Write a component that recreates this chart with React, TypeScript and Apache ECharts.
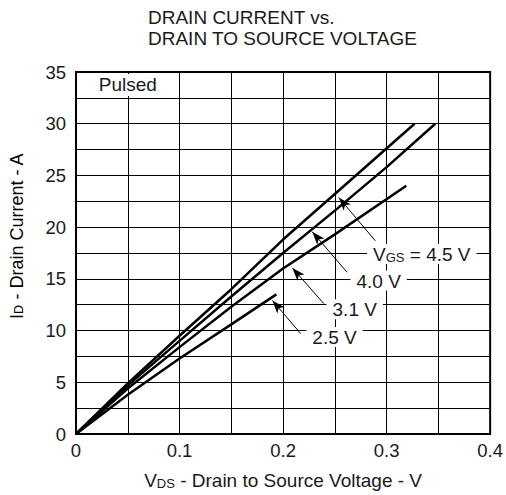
import { useEffect, useRef } from "react";
import * as echarts from "echarts";

// Curve data (VDS in V, ID in A)
const vds45 = [0, 0.05, 0.1, 0.15, 0.2, 0.25, 0.327];
const id45 = [0, 4.9, 9.5, 14.0, 18.8, 23.2, 30];
const vds40 = [0, 0.05, 0.1, 0.15, 0.2, 0.25, 0.3, 0.347];
const id40 = [0, 4.7, 9.0, 13.3, 17.5, 21.6, 25.8, 30];
const vds31 = [0, 0.05, 0.1, 0.15, 0.2, 0.25, 0.319];
const id31 = [0, 4.4, 8.4, 12.3, 16.0, 19.3, 24];
const vds25 = [0, 0.05, 0.1, 0.15, 0.1935];
const id25 = [0, 3.8, 7.3, 10.6, 13.5];

const xTickLabels = ["0", "0.1", "0.2", "0.3", "0.4"];
const yTickLabels = ["0", "5", "10", "15", "20", "25", "30", "35"];

// Annotations (data coordinates)
const curveLabels = ["{v|V}{s|GS}{v| = 4.5 V}", "{v|4.0 V}", "{v|3.1 V}", "{v|2.5 V}"];
const labelAt = [
  [0.334, 17.4],
  [0.2923, 14.84],
  [0.2692, 12.05],
  [0.2497, 9.39],
];
const arrowFrom = [
  [0.2891, 18.68],
  [0.2618, 15.64],
  [0.2394, 12.6],
  [0.217, 9.71],
];
const arrowTo = [
  [0.2538, 22.86],
  [0.2282, 19.55],
  [0.209, 16.06],
  [0.1897, 12.91],
];
const pulsedText = "Pulsed";
const pulsedAt = [0.05, 33.75];
const titleText = "DRAIN CURRENT vs.\nDRAIN TO SOURCE VOLTAGE";
const xNameText = "{v|V}{s|DS}{v| - Drain to Source Voltage - V}";
const yNameText = "{v|I}{s|D}{v| - Drain Current - A}";

const FONT = "'Liberation Sans', Arial, Helvetica, sans-serif";
const INK = "#1a1a1a";

function pairs(xs: number[], ys: number[]) {
  return xs.map((x, i) => [x, ys[i]]);
}

export default function App() {
  const ref = useRef<HTMLDivElement>(null);
  useEffect(() => {
    if (!ref.current) return;
    const chart = echarts.init(ref.current, undefined, { renderer: "svg" });
    const lineBase = {
      type: "line",
      showSymbol: false,
      symbol: "none",
      smooth: false,
      lineStyle: { color: "#000", width: 2.5 },
      silent: true,
      z: 3,
    };
    const rich = {
      v: { fontSize: 19, fontFamily: FONT, color: INK, verticalAlign: "bottom", lineHeight: 20 },
      s: { fontSize: 13, fontFamily: FONT, color: INK, verticalAlign: "bottom", lineHeight: 17 },
    };
    const richY = {
      v: { fontSize: 18, fontFamily: FONT, color: INK, verticalAlign: "bottom", lineHeight: 19 },
      s: { fontSize: 12.5, fontFamily: FONT, color: INK, verticalAlign: "bottom", lineHeight: 16 },
    };
    chart.setOption({
      animation: false,
      backgroundColor: "#fff",
      textStyle: { fontFamily: FONT },
      grid: { left: 76, right: 15, top: 72, bottom: 59, show: true, borderColor: "#000", borderWidth: 2, z: 10 },
      graphic: [
        {
          type: "text",
          left: 148,
          top: 7,
          z: 100,
          style: {
            text: titleText,
            font: `19px ${FONT}`,
            fill: INK,
            lineHeight: 21,
          },
        },
        {
          type: "text",
          x: 16,
          y: 236,
          rotation: Math.PI / 2,
          z: 100,
          style: {
            text: yNameText,
            rich: richY,
            align: "center",
            verticalAlign: "middle",
          },
        },
      ],
      xAxis: {
        type: "value",
        min: 0,
        max: 0.4,
        interval: 0.05,
        axisLine: { show: true, lineStyle: { color: "#000", width: 2 } },
        axisTick: { show: false },
        splitLine: { show: true, lineStyle: { color: "#000", width: 1 } },
        axisLabel: {
          color: INK,
          fontSize: 18.5,
          fontFamily: FONT,
          margin: 7,
          formatter: (v: number) => {
            const t = xTickLabels.find((s) => Math.abs(Number(s) - v) < 1e-6);
            return t ?? "";
          },
        },
        name: xNameText,
        nameLocation: "middle",
        nameGap: 36,
        nameTextStyle: { rich },
      },
      yAxis: {
        type: "value",
        min: 0,
        max: 35,
        interval: 2.5,
        axisLine: { show: true, lineStyle: { color: "#000", width: 2 } },
        axisTick: { show: false },
        splitLine: { show: true, lineStyle: { color: "#000", width: 1 } },
        axisLabel: {
          color: INK,
          fontSize: 18.5,
          fontFamily: FONT,
          margin: 10,
          formatter: (v: number) => {
            const t = yTickLabels.find((s) => Math.abs(Number(s) - v) < 1e-6);
            return t ?? "";
          },
        },
      },
      series: [
        { ...lineBase, name: "4.5", data: pairs(vds45, id45) },
        { ...lineBase, name: "4.0", data: pairs(vds40, id40) },
        { ...lineBase, name: "3.1", data: pairs(vds31, id31) },
        {
          ...lineBase,
          name: "2.5",
          data: pairs(vds25, id25),
          markLine: {
            silent: true,
            animation: false,
            symbol: ["none", "arrow"],
            symbolSize: [7, 13],
            lineStyle: { color: "#000", width: 1, type: "solid" },
            label: { show: false },
            z: 4,
            data: arrowFrom.map((f, i) => [
              { coord: f },
              { coord: arrowTo[i] },
            ]),
          },
          markPoint: {
            silent: true,
            animation: false,
            symbol: "rect",
            symbolSize: 1,
            itemStyle: { color: "rgba(0,0,0,0)" },
            z: 6,
            data: [
              ...labelAt.map((p, i) => ({
                coord: p,
                label: {
                  show: true,
                  position: "inside",
                  formatter: curveLabels[i],
                  backgroundColor: "#fff",
                  padding: [0, 6],
                  rich,
                },
              })),
              {
                coord: pulsedAt,
                label: {
                  show: true,
                  position: "inside",
                  formatter: pulsedText,
                  color: INK,
                  fontSize: 19,
                  fontFamily: FONT,
                  backgroundColor: "#fff",
                  padding: [2, 12],
                  lineHeight: 18,
                },
              },
            ],
          },
        },
      ],
    });
    return () => chart.dispose();
  }, []);
  return (
    <div
      ref={ref}
      style={{ position: "fixed", left: 0, top: 0, width: 506, height: 495 }}
    />
  );
}
